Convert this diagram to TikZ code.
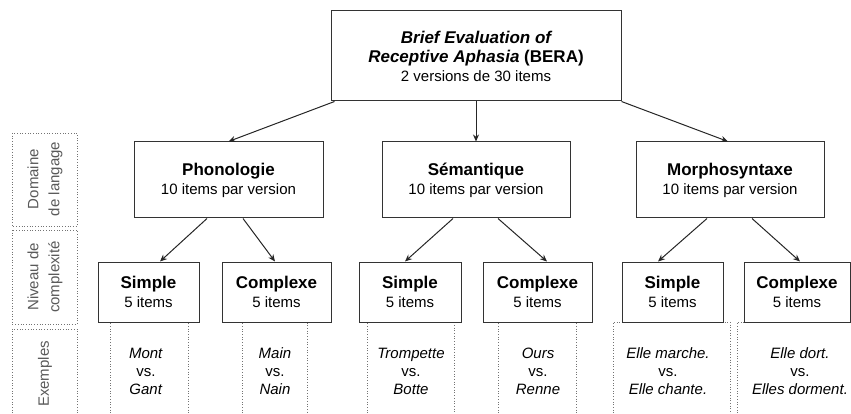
\documentclass[tikz,border=0pt]{standalone}
\usepackage{fontspec}
\setmainfont{Liberation Sans}
\usetikzlibrary{arrows.meta,calc}
\begin{document}
\begin{tikzpicture}[x=1pt,y=-1pt,
  box/.style={draw=black!80, line width=1pt, fill=white, inner sep=0pt, align=center,
    font=\fontsize{15}{19}\selectfont},
  arr/.style={-{Stealth[length=7pt,width=6pt]}, line width=1pt, draw=black!85},
  exbox/.style={draw=black!55, dotted, line width=0.7pt},
  lab/.style={rotate=90, align=center, text=black!65, inner sep=0pt,
    font=\fontsize{15}{21}\selectfont},
  ex/.style={align=center, inner sep=0pt, font=\fontsize{15}{18}\selectfont}
]
\useasboundingbox (0,0) rectangle (851,414);
\clip (0,0) rectangle (851,414);

% left labels
\draw[exbox] (12,133) rectangle (77,226);
\draw[exbox] (12,230) rectangle (77,324);
\draw[exbox] (12,440) -- (12,329) -- (77,329) -- (77,440);
\node[lab] (l1) at (45,179) {Domaine\\de langage};
\node[lab] (l2) at (45,277) {Niveau de\\complexité};
\node[lab] (l3) at (45,374) {Exemples};

% top
\node[box, minimum width=290, minimum height=90] (bera) at (476,56)
  {{\fontsize{17}{20}\selectfont\bfseries\itshape Brief Evaluation of}\\
   {\fontsize{17}{20}\selectfont\bfseries\itshape Receptive Aphasia \upshape(BERA)}\\
   2 versions de 30 items};

% level 2
\node[box, minimum width=189, minimum height=76] (phon) at (228.5,180)
  {{\fontsize{17}{20}\selectfont\bfseries Phonologie}\\10 items par version};
\node[box, minimum width=188, minimum height=76] (sem) at (476,180)
  {{\fontsize{17}{20}\selectfont\bfseries Sémantique}\\10 items par version};
\node[box, minimum width=188, minimum height=76] (morph) at (730,180)
  {{\fontsize{17}{20}\selectfont\bfseries Morphosyntaxe}\\10 items par version};

% example boxes
\draw[exbox] (110,440) -- (110,322) -- (188,322) -- (188,440);
\draw[exbox] (242,440) -- (242,322) -- (307,322) -- (307,440);
\draw[exbox] (367,440) -- (367,322) -- (454,322) -- (454,440);
\draw[exbox] (498,440) -- (498,322) -- (576,322) -- (576,440);
\draw[exbox] (613,440) -- (613,322) -- (730,322) -- (730,440);
\draw[exbox] (737,440) -- (737,322) -- (870,322) -- (870,440);

% level 3
\node[box, minimum width=101, minimum height=60] (ps) at (148.5,292)
  {{\fontsize{17}{20}\selectfont\bfseries Simple}\\5 items};
\node[box, minimum width=109, minimum height=60] (pc) at (276.5,292)
  {{\fontsize{17}{20}\selectfont\bfseries Complexe}\\5 items};
\node[box, minimum width=102, minimum height=60] (ss) at (410,292)
  {{\fontsize{17}{20}\selectfont\bfseries Simple}\\5 items};
\node[box, minimum width=109, minimum height=60] (sc) at (537.5,292)
  {{\fontsize{17}{20}\selectfont\bfseries Complexe}\\5 items};
\node[box, minimum width=101, minimum height=60] (ms) at (672.5,292)
  {{\fontsize{17}{20}\selectfont\bfseries Simple}\\5 items};
\node[box, minimum width=106, minimum height=60] (mc) at (797,292)
  {{\fontsize{17}{20}\selectfont\bfseries Complexe}\\5 items};

% examples
\node[ex] (e1) at (146,371) {\textit{Mont}\\vs.\\\textit{Gant}};
\node[ex] (e2) at (275,371) {\textit{Main}\\vs.\\\textit{Nain}};
\node[ex] (e3) at (411,371) {\textit{Trompette}\\vs.\\\textit{Botte}};
\node[ex] (e4) at (538,371) {\textit{Ours}\\vs.\\\textit{Renne}};
\node[ex] (e5) at (668,371) {\textit{Elle marche.}\\vs.\\\textit{Elle chante.}};
\node[ex] (e6) at (800,371) {\textit{Elle dort.}\\vs.\\\textit{Elles dorment.}};

% arrows
\draw[arr] ($(bera.south west)+(4,0)$) -- (phon.north);
\draw[arr] (bera.south) -- (sem.north);
\draw[arr] (bera.south east) -- ($(morph.north)+(-2,0)$);

\draw[arr] ($(phon.south)+(-21.5,0)$) -- ($(ps.north)+(11.5,0)$);
\draw[arr] ($(phon.south)+(14.5,0)$) -- ($(pc.north)+(-1.5,0)$);
\draw[arr] ($(sem.south)+(-23,0)$) -- ($(ss.north)+(-5,0)$);
\draw[arr] ($(sem.south)+(22,0)$) -- ($(sc.north)+(9.5,0)$);
\draw[arr] ($(morph.south)+(-23,0)$) -- ($(ms.north)+(-14.5,0)$);
\draw[arr] ($(morph.south)+(22,0)$) -- ($(mc.north)+(3,0)$);
\end{tikzpicture}
\end{document}
